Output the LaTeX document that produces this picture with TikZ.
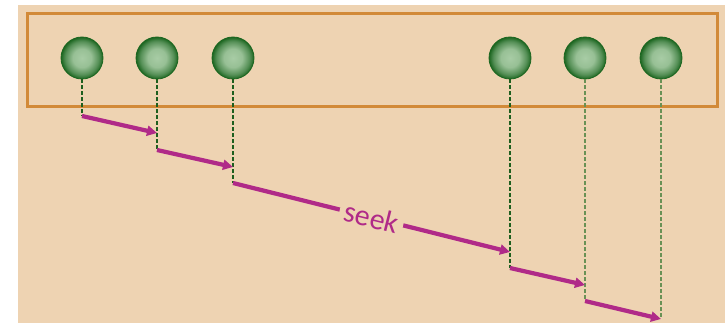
\documentclass[tikz,border=0pt]{standalone}
\usepackage{fontspec}
\setsansfont{Carlito}
\usetikzlibrary{arrows.meta,positioning}
\definecolor{bgbeige}{RGB}{238,211,178}
\definecolor{boxorange}{RGB}{210,138,56}
\definecolor{seekmagenta}{RGB}{176,42,136}
\definecolor{beaddark}{RGB}{28,102,32}
\definecolor{beadlight}{RGB}{168,204,165}
\definecolor{guidedark}{RGB}{30,95,30}
\definecolor{guidelight}{RGB}{105,145,85}
\pgfdeclareradialshading{beadshade}{\pgfpoint{0bp}{0bp}}{color(0bp)=(beadlight); color(11bp)=(beadlight!88!beaddark); color(20bp)=(beaddark!60!beadlight); color(25bp)=(beaddark); color(50bp)=(beaddark)}

\begin{document}
\begin{tikzpicture}[x=1pt,y=-1pt,
    bead/.style={circle,minimum size=42pt,inner sep=0pt,shading=beadshade,draw=beaddark,line width=0.8pt},
    guide/.style={dash pattern=on 3.5pt off 2.5pt,line width=1.2pt,draw=guidedark},
    seekarrow/.style={draw=seekmagenta,line width=4.2pt,-{Triangle[length=10pt,width=10pt]}},
    seeklabel/.style={fill=bgbeige,text=seekmagenta,inner xsep=5pt,inner ysep=1pt,
      font=\sffamily\fontsize{30}{30}\selectfont}]
    \useasboundingbox (0,0) rectangle (725,323);
    %background and track frame
    \fill[bgbeige] (18,5) rectangle (725,323);
    \draw[boxorange,line width=3pt] (27,14) rectangle (717,107);

    %beads
    \node[bead] (b1) at (82,58) {};
    \node[bead] (b2) at (157,58) {};
    \node[bead] (b3) at (233,58) {};
    \node[bead] (b4) at (510,58) {};
    \node[bead] (b5) at (585,58) {};
    \node[bead] (b6) at (661,58) {};

    %ends of the seek steps
    \coordinate (s1) at (82,116);   \coordinate (e1) at (157,133);
    \coordinate (s2) at (157,150);  \coordinate (e2) at (233,167);
    \coordinate (s3) at (233,183);  \coordinate (e3) at (510,252);
    \coordinate (s4) at (510,268);  \coordinate (e4) at (585,285);
    \coordinate (s5) at (585,301);  \coordinate (e5) at (661,319);

    %guides
    \draw[guide] (b1.south) -- (s1);
    \draw[guide] (b2.south) -- (s2);
    \draw[guide] (b3.south) -- (s3);
    \draw[guide] (b4.south) -- (s4);
    \draw[guide,draw=guidelight] (b5.south) -- (s5);
    \draw[guide,draw=guidelight] (b6.south) -- (e5);

    %seek steps
    \draw[seekarrow] (s1) -- (e1);
    \draw[seekarrow] (s2) -- (e2);
    \draw[seekarrow] (s3) -- node[seeklabel,midway,sloped] (seek) {seek} (e3);
    \draw[seekarrow] (s4) -- (e4);
    \draw[seekarrow] (s5) -- (e5);
\end{tikzpicture}
\end{document}
